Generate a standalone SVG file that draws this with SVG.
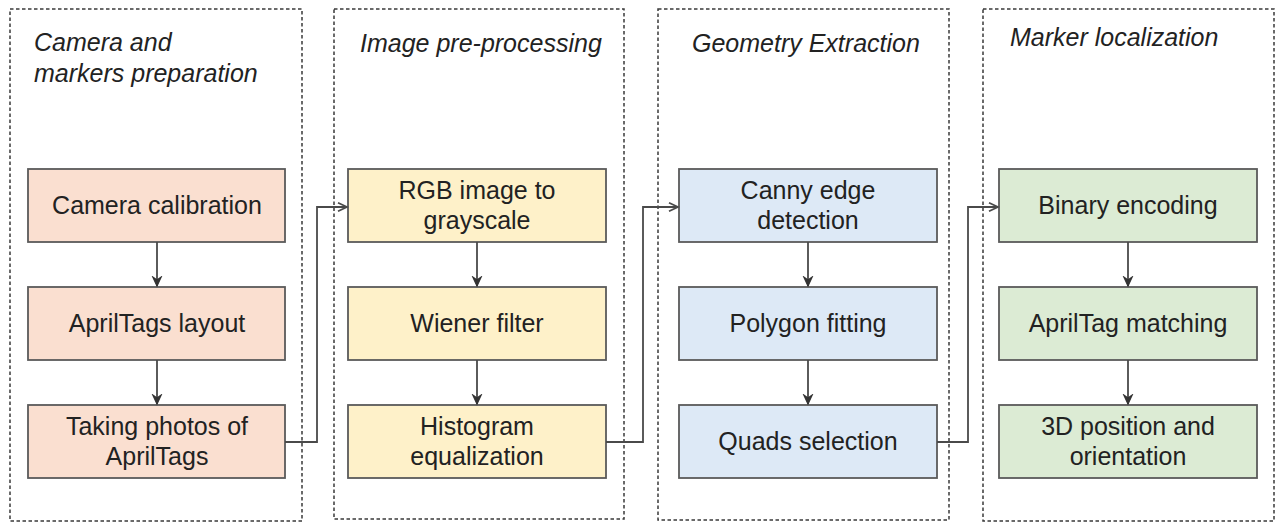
<svg xmlns="http://www.w3.org/2000/svg" width="1279" height="525" viewBox="0 0 1279 525">
<style>
.grp{fill:none;stroke:#3a3a3a;stroke-width:1.5;stroke-dasharray:3.5 2.5}
.title{font-family:"Liberation Sans",Arial,sans-serif;font-style:italic;font-size:25px;fill:#222}
.node{stroke:#5a5a5a;stroke-width:1.8}
.lbl{font-family:"Liberation Sans",Arial,sans-serif;font-size:25px;fill:#222;text-anchor:middle}
.pink{fill:#fadfd0}
.yel{fill:#fef1c9}
.blue{fill:#dde9f6}
.green{fill:#dcebd4}
.conn{fill:none;stroke:#4a4a4a;stroke-width:1.8}
</style>
<defs>
<marker id="arr" markerUnits="userSpaceOnUse" markerWidth="12" markerHeight="12" refX="10" refY="5" orient="auto" viewBox="0 0 12 10">
<path d="M1,0.8 L10,5 L1,9.2" fill="none" stroke="#4a4a4a" stroke-width="1.8"/>
</marker>
<marker id="arrv" markerUnits="userSpaceOnUse" markerWidth="12" markerHeight="12" refX="10" refY="5" orient="auto" viewBox="0 0 12 10">
<path d="M1,0.8 L10,5 L1,9.2 L4,5 Z" fill="#333" stroke="#333" stroke-width="1.2"/>
</marker>
</defs>
<rect width="1279" height="525" fill="#fff"/>

<g id="group-camera">
<rect class="grp" x="10" y="9" width="292" height="512"/>
<text class="title" x="34" y="51">Camera and</text>
<text class="title" x="34" y="82">markers preparation</text>
</g>
<g id="group-preprocessing">
<rect class="grp" x="334" y="9" width="290" height="510"/>
<text class="title" x="360" y="52">Image pre-processing</text>
</g>
<g id="group-geometry">
<rect class="grp" x="658" y="9" width="291" height="511"/>
<text class="title" x="692" y="52">Geometry Extraction</text>
</g>
<g id="group-marker">
<rect class="grp" x="983" y="9" width="291" height="512"/>
<text class="title" x="1010" y="46">Marker localization</text>
</g>

<g id="n-camera-calibration">
<rect class="node pink" x="28" y="169" width="257" height="73"/>
<text class="lbl" x="157" y="214">Camera calibration</text>
</g>
<g id="n-apriltags-layout">
<rect class="node pink" x="28" y="287" width="257" height="73"/>
<text class="lbl" x="157" y="332">AprilTags layout</text>
</g>
<g id="n-taking-photos">
<rect class="node pink" x="28" y="405" width="257" height="73"/>
<text class="lbl" x="157" y="435">Taking photos of</text>
<text class="lbl" x="157" y="465">AprilTags</text>
</g>

<g id="n-rgb-grayscale">
<rect class="node yel" x="348" y="169" width="258" height="73"/>
<text class="lbl" x="477" y="199">RGB image to</text>
<text class="lbl" x="477" y="229">grayscale</text>
</g>
<g id="n-wiener">
<rect class="node yel" x="348" y="287" width="258" height="73"/>
<text class="lbl" x="477" y="332">Wiener filter</text>
</g>
<g id="n-histogram">
<rect class="node yel" x="348" y="405" width="258" height="73"/>
<text class="lbl" x="477" y="435">Histogram</text>
<text class="lbl" x="477" y="465">equalization</text>
</g>

<g id="n-canny">
<rect class="node blue" x="679" y="169" width="258" height="73"/>
<text class="lbl" x="808" y="199">Canny edge</text>
<text class="lbl" x="808" y="229">detection</text>
</g>
<g id="n-polygon">
<rect class="node blue" x="679" y="287" width="258" height="73"/>
<text class="lbl" x="808" y="332">Polygon fitting</text>
</g>
<g id="n-quads">
<rect class="node blue" x="679" y="405" width="258" height="73"/>
<text class="lbl" x="808" y="450">Quads selection</text>
</g>

<g id="n-binary">
<rect class="node green" x="999" y="169" width="258" height="73"/>
<text class="lbl" x="1128" y="214">Binary encoding</text>
</g>
<g id="n-apriltag-matching">
<rect class="node green" x="999" y="287" width="258" height="73"/>
<text class="lbl" x="1128" y="332">AprilTag matching</text>
</g>
<g id="n-3d-position">
<rect class="node green" x="999" y="405" width="258" height="73"/>
<text class="lbl" x="1128" y="435">3D position and</text>
<text class="lbl" x="1128" y="465">orientation</text>
</g>

<g id="connectors">
<path class="conn" d="M157,242 V286" marker-end="url(#arrv)"/>
<path class="conn" d="M157,360 V404" marker-end="url(#arrv)"/>
<path class="conn" d="M477,242 V286" marker-end="url(#arrv)"/>
<path class="conn" d="M477,360 V404" marker-end="url(#arrv)"/>
<path class="conn" d="M808,242 V286" marker-end="url(#arrv)"/>
<path class="conn" d="M808,360 V404" marker-end="url(#arrv)"/>
<path class="conn" d="M1128,242 V286" marker-end="url(#arrv)"/>
<path class="conn" d="M1128,360 V404" marker-end="url(#arrv)"/>
<path class="conn" d="M285,442 H317 V207 H347" marker-end="url(#arr)"/>
<path class="conn" d="M606,442 H643 V207 H678" marker-end="url(#arr)"/>
<path class="conn" d="M937,442 H968 V207 H998" marker-end="url(#arr)"/>
</g>
</svg>
